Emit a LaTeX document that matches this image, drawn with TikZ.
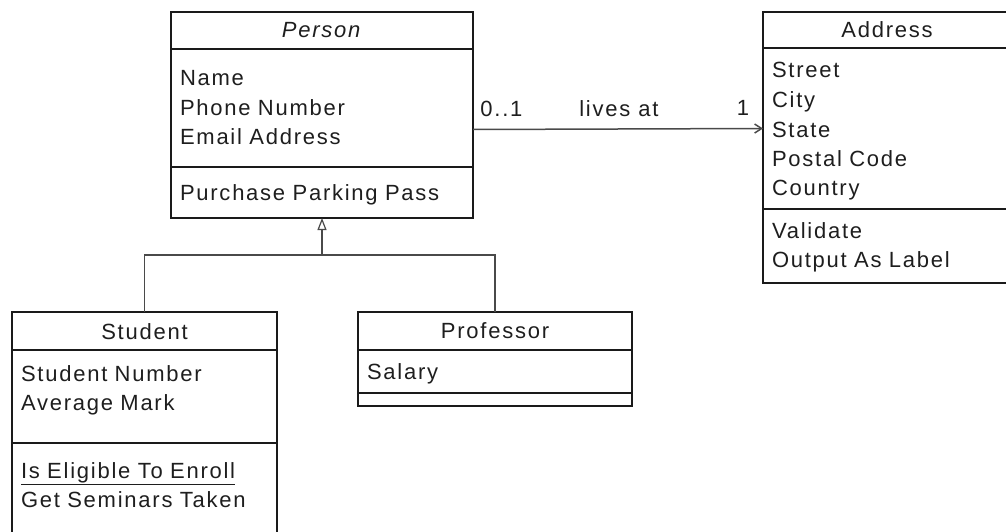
\documentclass[tikz,border=0pt]{standalone}
\usepackage{fontspec}
\setmainfont{Liberation Sans}[LetterSpace=8]
\usetikzlibrary{arrows.meta, positioning}

\definecolor{boxline}{HTML}{1A1A1A}
\definecolor{linkgray}{HTML}{4A4A4A}
\definecolor{labeltext}{HTML}{1E1E1E}

\tikzset{
  umlbox/.style={draw=boxline, line width=1.5pt, outer sep=0pt,
    inner xsep=9pt, inner ysep=0pt, text width=#1, align=left,
    font=\fontsize{22}{29.5}\selectfont, text=labeltext},
  umlhead/.style={umlbox=#1, align=center},
  link/.style={draw=linkgray, line width=1.5pt},
  linklabel/.style={inner sep=0pt, text depth=0pt,
    font=\fontsize{22}{25}\selectfont, text=labeltext},
}

\begin{document}
\begin{tikzpicture}[x=1pt, y=-1pt]
    \clip (0,0) rectangle (1006,532);
    % Person
    \node[umlhead=284pt, text height=26pt, text depth=11pt, anchor=north west] (person) at (171,12) {\textit{Person}};
    \node[umlbox=284pt, text height=37pt, text depth=81pt, below=0pt of person] (personattr) {Name\\Phone Number\\Email Address};
    \node[umlbox=284pt, text height=33pt, text depth=18pt, below=0pt of personattr] (personops) {Purchase Parking Pass};
    % Address
    \node[umlhead=230pt, text height=26pt, text depth=10pt, anchor=north west] (address) at (763,12) {Address};
    \node[umlbox=230pt, text height=30pt, text depth=131pt, below=0pt of address] (addressattr) {Street\\City\\State\\Postal Code\\Country};
    \node[umlbox=230pt, text height=29pt, text depth=45pt, below=0pt of addressattr] (addressops) {Validate\\Output As Label};
    % Student
    \node[umlhead=247pt, text height=27.5pt, text depth=10.5pt, anchor=north west] (student) at (12,312) {Student};
    \node[umlbox=247pt, text height=31pt, text depth=62pt, below=0pt of student] (studentattr) {Student Number\\Average Mark};
    \node[umlbox=247pt, text height=35pt, text depth=67pt, below=0pt of studentattr] (studentops) {\underline{Is Eligible To Enroll}\\Get Seminars Taken};
    % Professor
    \node[umlhead=256pt, text height=26pt, text depth=12pt, anchor=north west] (professor) at (358,312) {Professor};
    \node[umlbox=256pt, text height=29.5pt, text depth=13.5pt, below=0pt of professor] (professorattr) {Salary};
    \node[umlbox=256pt, text height=13pt, text depth=0pt, below=0pt of professorattr] (professorops) {};

    % association
    \draw[link, -{Straight Barb[length=7pt, width=9pt]}] ([yshift=-21.5pt]personattr.east) -- (addressattr.west)
        node[linklabel, pos=0.098, above=12pt] {0..1}
        node[linklabel, pos=0.503, above=12pt] {lives at}
        node[linklabel, pos=0.931, above=12pt] {1};

    % generalization
    \coordinate (bus) at (322,255);
    \draw[link] (student.north) |- (bus) -| (professor.north);
    \draw[link, -{Triangle[open, length=12pt, width=9pt, line width=1.2pt]}] (bus) -- (personops.south);
\end{tikzpicture}
\end{document}
